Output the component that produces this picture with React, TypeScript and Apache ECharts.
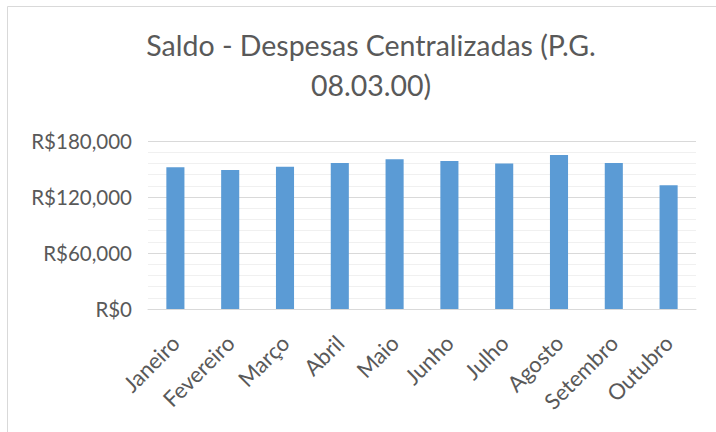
import React, { useEffect, useRef } from "react";
import * as echarts from "echarts";

const titleText = "Saldo - Despesas Centralizadas (P.G.\n08.03.00)";
const months = [
  "Janeiro",
  "Fevereiro",
  "Março",
  "Abril",
  "Maio",
  "Junho",
  "Julho",
  "Agosto",
  "Setembro",
  "Outubro",
];
const saldo = [152000, 149000, 152500, 156500, 160500, 158500, 156000, 165000, 156500, 132500];
const yTicks = [0, 60000, 120000, 180000];

const fmt = (v: number) => "R$" + v.toLocaleString("en-US");

export default function App() {
  const ref = useRef<HTMLDivElement>(null);
  useEffect(() => {
    if (!ref.current) return;
    const chart = echarts.init(ref.current, undefined, { renderer: "svg" });
    chart.setOption({
      animation: false,
      backgroundColor: "#ffffff",
      graphic: [
        {
          type: "rect",
          shape: { x: 7.5, y: 6.5, width: 740, height: 460 },
          style: { fill: "none", stroke: "#d9d9d9", lineWidth: 1 },
          silent: true,
        },
      ],
      title: {
        text: titleText,
        left: 366,
        top: 20,
        textAlign: "center",
        textStyle: {
          fontFamily: "Lato",
          fontSize: 28.5,
          fontWeight: "normal",
          color: "#595959",
          lineHeight: 40,
        },
      },
      grid: { left: 148, right: 20, top: 141, bottom: 123 },
      xAxis: {
        type: "category",
        data: months,
        axisLine: { show: true, lineStyle: { color: "#d9d9d9", width: 1 } },
        axisTick: { show: false },
        axisLabel: {
          rotate: 45,
          margin: 30,
          interval: 0,
          fontFamily: "Lato",
          fontSize: 22,
          color: "#595959",
        },
      },
      yAxis: {
        type: "value",
        min: yTicks[0],
        max: yTicks[yTicks.length - 1],
        interval: yTicks[1] - yTicks[0],
        axisLine: { show: false },
        axisTick: { show: false },
        splitLine: { show: true, lineStyle: { color: "#d9d9d9", width: 1 } },
        minorTick: { show: false, splitNumber: 5 },
        minorSplitLine: { show: true, lineStyle: { color: "#f0f0f0", width: 1 } },
        axisLabel: {
          margin: 16,
          formatter: (v: number) => fmt(v),
          fontFamily: "Lato",
          fontSize: 20.5,
          color: "#595959",
        },
      },
      series: [
        {
          type: "bar",
          data: saldo,
          barWidth: "33%",
          itemStyle: { color: "#5b9bd5" },
        },
      ],
    });
    return () => chart.dispose();
  }, []);
  return <div ref={ref} style={{ width: 716, height: 432, position: "absolute", left: 0, top: 0 }} />;
}
